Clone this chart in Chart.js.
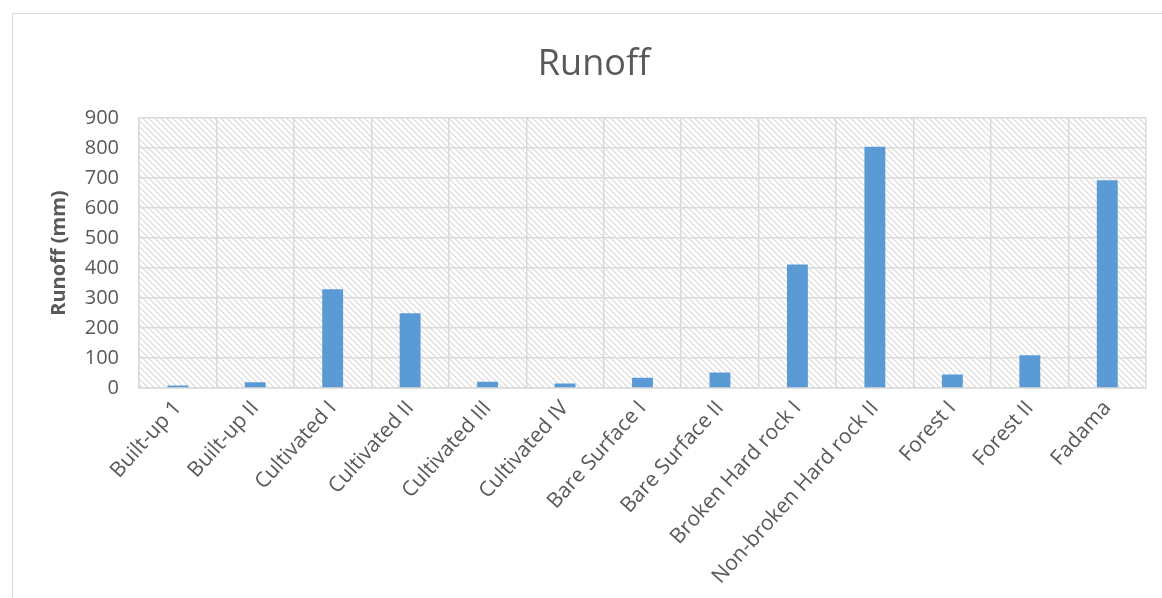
<!DOCTYPE html>
<html>
<head>
<meta charset="utf-8">
<script src="https://cdn.jsdelivr.net/npm/chart.js@4"></script>
<style>
  html, body { margin: 0; padding: 0; background: #fff; }
  #wrap { width: 1162px; height: 598px; }
</style>
</head>
<body>
<div id="wrap"><canvas id="runoffChart" width="1162" height="598"></canvas></div>
<script>
// land units and their runoff depth
var landUnits = [
  "Built-up 1", "Built-up II", "Cultivated I", "Cultivated II",
  "Cultivated III", "Cultivated IV", "Bare Surface I", "Bare Surface II",
  "Broken Hard rock I", "Non-broken Hard rock II", "Forest I", "Forest II",
  "Fadama"
];
var runoffMm = [8, 19, 329, 249, 21, 15, 34, 52, 412, 805, 45, 109, 693];
var yTicks = [0, 100, 200, 300, 400, 500, 600, 700, 800, 900];

var textGrey = '#595959';
var gridGrey = '#d9d9d9';

// diagonal hatch used behind the bars
function makeHatch() {
  var c = document.createElement('canvas');
  c.width = 6; c.height = 6;
  var g = c.getContext('2d');
  g.fillStyle = '#ffffff';
  g.fillRect(0, 0, 6, 6);
  g.fillStyle = '#e2e2e2';
  for (var i = 0; i < 6; i++) {
    g.fillRect(i, i, 1, 1);
    g.fillRect((i + 1) % 6, i, 1, 1);
  }
  return g.createPattern(c, 'repeat');
}

var hatchBackground = {
  id: 'hatchBackground',
  beforeDraw: function (chart) {
    var ctx = chart.ctx;
    var a = chart.chartArea;
    ctx.save();
    ctx.fillStyle = '#ffffff';
    ctx.fillRect(0, 0, chart.width, chart.height);
    // outer frame of the chart
    ctx.strokeStyle = gridGrey;
    ctx.lineWidth = 1;
    ctx.strokeRect(12.5, 13.5, 1300, 700);
    ctx.fillStyle = makeHatch();
    ctx.fillRect(a.left, a.top, a.right - a.left, a.bottom - a.top);
    ctx.restore();
  }
};

var ctx = document.getElementById('runoffChart');
var runoffChart = new Chart(ctx, {
  type: 'bar',
  data: {
    labels: landUnits,
    datasets: [{
      label: 'Runoff',
      data: runoffMm,
      backgroundColor: '#5b9bd5',
      borderWidth: 0,
      barPercentage: 0.27,
      categoryPercentage: 1.0
    }]
  },
  options: {
    responsive: false,
    animation: false,
    layout: { padding: { left: 42, right: 16, top: 0, bottom: 0 } },
    plugins: {
      legend: { display: false },
      tooltip: { enabled: false },
      title: {
        display: true,
        text: 'Runoff',
        color: textGrey,
        font: { family: 'Open Sans', size: 36, weight: 'normal' },
        padding: { top: 43, bottom: 32 }
      }
    },
    scales: {
      x: {
        grid: { color: gridGrey, lineWidth: 1.5, drawTicks: false, offset: true },
        border: { color: gridGrey, width: 1.5 },
        ticks: {
          color: textGrey,
          font: { family: 'Open Sans', size: 21 },
          minRotation: 48,
          maxRotation: 48,
          autoSkip: false,
          padding: 8
        },
        afterFit: function (scale) { scale.height = 598 - 388; }
      },
      y: {
        min: 0,
        max: 900,
        afterBuildTicks: function (scale) {
          scale.ticks = yTicks.map(function (v) { return { value: v }; });
        },
        grid: { color: gridGrey, lineWidth: 1.5, drawTicks: false },
        border: { color: gridGrey, width: 1.5 },
        ticks: {
          color: textGrey,
          font: { family: 'Open Sans', size: 20 },
          padding: 20
        },
        title: {
          display: true,
          text: 'Runoff (mm)',
          color: textGrey,
          font: { family: 'Open Sans', size: 20, weight: 'bold' },
          padding: { top: 5, bottom: 0 }
        },
        afterFit: function (scale) { scale.width = 139 - 42; }
      }
    }
  },
  plugins: [hatchBackground]
});
</script>
</body>
</html>
